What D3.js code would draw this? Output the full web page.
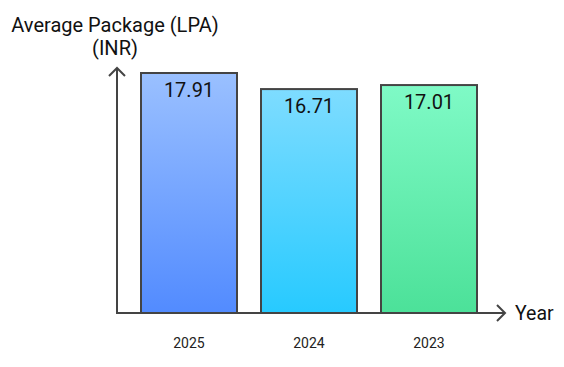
<!DOCTYPE html>
<html><head><meta charset="utf-8">
<script src="https://cdn.jsdelivr.net/npm/d3@7"></script>
<style>body{margin:0;background:#fff}svg{display:block;font-family:Roboto,sans-serif}</style>
</head><body><svg id="c" width="564" height="367"></svg>
<script>
const categories = ["2025", "2024", "2023"];
const values = [17.91, 16.71, 17.01];
const topColors = ["#9ac0ff", "#7edcff", "#7ffac6"];
const bottomColors = ["#528bff", "#27caff", "#4ce199"];
const yTitle = ["Average Package (LPA)", "(INR)"];
const xTitle = "Year";

const svg = d3.select("#c");
const x0 = 117, y0 = 313;
const x = d3.scaleBand().domain(categories).range([129, 489]).paddingInner(0.2).paddingOuter(0.1);
const y = d3.scaleLinear().domain([0, 17.91]).range([y0, 73]);

const defs = svg.append("defs");
categories.forEach((c, i) => {
  const g = defs.append("linearGradient").attr("id", "g" + i).attr("x1", 0).attr("y1", 0).attr("x2", 0).attr("y2", 1);
  g.append("stop").attr("offset", "0%").attr("stop-color", topColors[i]);
  g.append("stop").attr("offset", "100%").attr("stop-color", bottomColors[i]);
});

svg.selectAll("rect.bar").data(values).join("rect").attr("class", "bar")
  .attr("x", (d, i) => x(categories[i]))
  .attr("y", d => y(d))
  .attr("width", x.bandwidth())
  .attr("height", d => y0 - y(d))
  .attr("fill", (d, i) => `url(#g${i})`)
  .attr("stroke", "#444").attr("stroke-width", 2);

svg.selectAll("text.val").data(values).join("text").attr("class", "val")
  .attr("x", (d, i) => x(categories[i]) + x.bandwidth() / 2)
  .attr("y", d => y(d) + 24)
  .attr("text-anchor", "middle").attr("font-size", 20).attr("fill", "#111")
  .text(d => d.toFixed(2));

// axes
const ax = svg.append("g").attr("stroke", "#444").attr("stroke-width", 2).attr("fill", "none");
ax.append("line").attr("x1", x0).attr("y1", y0).attr("x2", x0).attr("y2", 68);
ax.append("path").attr("d", `M${x0-8},${76} L${x0},${68} L${x0+8},${76}`);
ax.append("line").attr("x1", x0 - 1).attr("y1", y0).attr("x2", 505).attr("y2", y0);
ax.append("path").attr("d", `M${497},${y0-8} L${505},${y0} L${497},${y0+8}`);

svg.selectAll("text.tick").data(categories).join("text").attr("class", "tick")
  .attr("x", d => x(d) + x.bandwidth() / 2).attr("y", 348)
  .attr("text-anchor", "middle").attr("font-size", 14).attr("fill", "#222").text(d => d);

svg.append("text").attr("x", 515).attr("y", 320).attr("font-size", 19.5).attr("fill", "#111").text(xTitle);
svg.selectAll("text.yt").data(yTitle).join("text").attr("class", "yt")
  .attr("x", 115).attr("y", (d, i) => 32 + i * 23)
  .attr("text-anchor", "middle").attr("font-size", 20).attr("fill", "#111").text(d => d);
</script></body></html>
